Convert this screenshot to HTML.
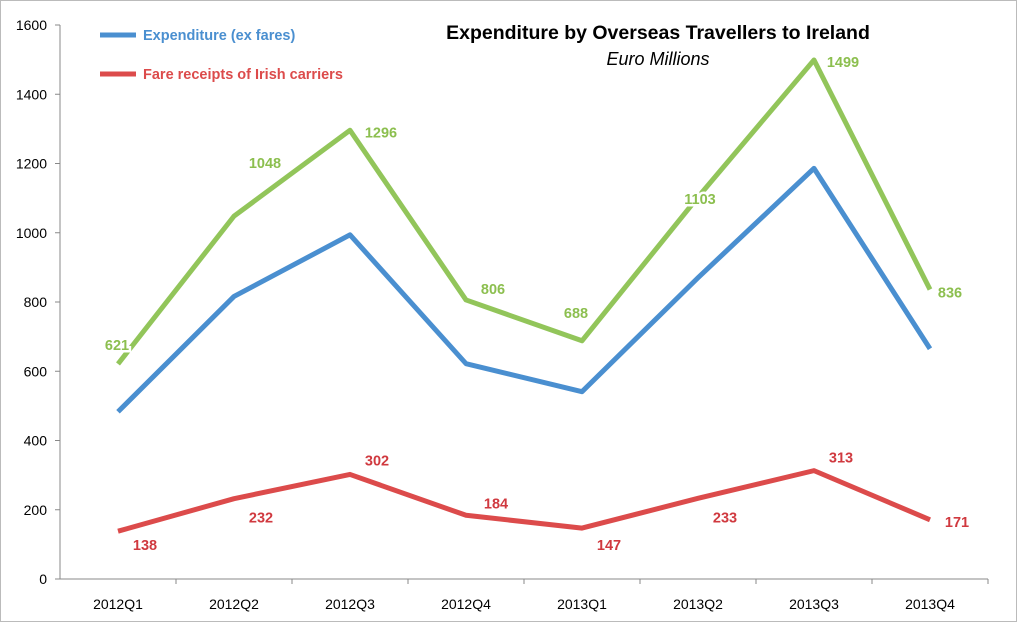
<!DOCTYPE html>
<html><head><meta charset="utf-8"><style>
body{margin:0;background:#fff}
svg text{font-family:"Liberation Sans",sans-serif}
</style></head><body>
<svg id="chart" width="1017" height="622" xmlns="http://www.w3.org/2000/svg">
<rect x="0.5" y="0.5" width="1016" height="621" fill="#fff" stroke="#bbb"/>
<g id="axes"></g>
<g id="series"></g>
<text x="658" y="39" text-anchor="middle" font-size="19.5" font-weight="bold">Expenditure by Overseas Travellers to Ireland</text>
<text x="658" y="65" text-anchor="middle" font-size="18" font-style="italic">Euro Millions</text>
<g>
<line x1="100" y1="35" x2="136" y2="35" stroke="#4a8fd0" stroke-width="5"/>
<text x="143" y="40" font-size="14.5" font-weight="bold" fill="#4a8fd0">Expenditure (ex fares)</text>
<line x1="100" y1="74" x2="136" y2="74" stroke="#dc4b4b" stroke-width="5"/>
<text x="143" y="79" font-size="14.5" font-weight="bold" fill="#dc4b4b">Fare receipts of Irish carriers</text>
</g>
</svg>
<script>
const categories=["2012Q1","2012Q2","2012Q3","2012Q4","2013Q1","2013Q2","2013Q3","2013Q4"];
const expenditure=[483,816,994,622,541,870,1186,665];
const fares=[138,232,302,184,147,233,313,171];
const totals=[621,1048,1296,806,688,1103,1499,836];
const yTicks=[0,200,400,600,800,1000,1200,1400,1600];
const NS="http://www.w3.org/2000/svg";
const L=60,R=988,T=25,B=579,YMAX=1600;
const x=i=>L+(R-L)/categories.length*(i+0.5);
const y=v=>B-(B-T)*v/YMAX;
function mk(tag,attrs,parent){const e=document.createElementNS(NS,tag);for(const k in attrs)e.setAttribute(k,attrs[k]);parent.appendChild(e);return e;}
const ax=document.getElementById('axes');
const yl=mk('line',{x1:L,y1:T,x2:L,y2:B,stroke:'#888'},ax);


const xl=mk('line',{x1:L,y1:B,x2:R,y2:B,stroke:'#888'},ax);


yTicks.forEach(v=>{
 mk('line',{x1:L-5,y1:y(v),x2:L,y2:y(v),stroke:'#888'},ax);
 const t=mk('text',{x:L-13,y:y(v)+5,'text-anchor':'end','font-size':14},ax);t.textContent=v;
 
 
});
categories.forEach((c,i)=>{
 const xe=L+(R-L)/categories.length*(i+1);
 mk('line',{x1:xe,y1:B,x2:xe,y2:B+5,stroke:'#888'},ax);
 const t=mk('text',{x:x(i),y:B+30,'text-anchor':'middle','font-size':14},ax);t.textContent=c;
 
 
});
const sg=document.getElementById('series');
function line(vals,color,name){
 const p=mk('polyline',{points:vals.map((v,i)=>x(i)+','+y(v)).join(' '),fill:'none',stroke:color,'stroke-width':5,'stroke-linejoin':'round'},sg);
 
 
}
line(totals,'#92c55a','total-line');
line(expenditure,'#4a8fd0','expenditure-line');
line(fares,'#dc4b4b','fares-line');
const gOff=[[-1,-19],[31,-53],[31,2],[27,-11],[-6,-28],[2,2],[29,2],[20,3]];
const rOff=[[27,14],[27,19],[27,-14],[30,-12],[27,17],[27,19],[27,-13],[27,2]];
function labels(vals,color,offs,name){
 vals.forEach((v,i)=>{
  const t=mk('text',{x:x(i)+offs[i][0],y:y(v)+offs[i][1]+5,'text-anchor':'middle','font-size':14.5,'font-weight':'bold',fill:color,stroke:'#fff','stroke-width':5,'paint-order':'stroke'},sg);
  t.textContent=v;
  
  
 });
}
labels(totals,'#8cbf4f',gOff,'total-value-label');
labels(fares,'#d0393f',rOff,'fares-value-label');
</script>
</body></html>
